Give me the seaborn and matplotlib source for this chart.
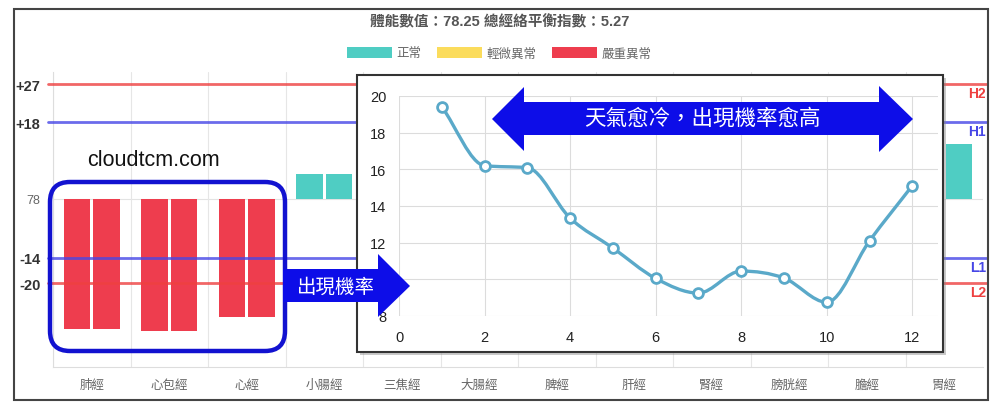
import numpy as np
import pandas as pd
import matplotlib
matplotlib.use('Agg')
import matplotlib.pyplot as plt
import matplotlib.transforms as mtransforms
import seaborn as sns
from matplotlib.patches import Rectangle, Polygon, FancyBboxPatch, PathPatch, Patch
from matplotlib.path import Path

# main chart: deviation from the body value (78) for each meridian, left / right side
meridians = ['肺經', '心包經', '心經', '小腸經', '三焦經', '大腸經',
             '脾經', '肝經', '腎經', '膀胱經', '膽經', '胃經']
left_values = [-30.9, -31.3, -28.0, 5.8, 4.0, -6.0, 3.0, -4.0, 5.0, -3.0, 4.0, 10.0]
right_values = [-30.9, -31.3, -28.0, 5.8, 5.0, -5.0, 2.0, -3.0, 6.0, -2.0, 3.0, 12.9]

ytick_values = [27, 18, 0, -14, -20]
ytick_labels = ['+27', '+18', '78', '-14', '-20']

ref_values = [27, 18, -14, -20]
ref_names = ['H2', 'H1', 'L1', 'L2']
ref_colors = ['#ee4040', '#4646e6', '#4646e6', '#ee4040']

status_names = ['正常', '輕微異常', '嚴重異常']
status_colors = ['#4fcdc3', '#fbdc5c', '#ee3d4e']

# inset: probability by month
months = [1, 2, 3, 4, 5, 6, 7, 8, 9, 10, 11, 12]
cold_rate = [19.42, 16.2, 16.09, 13.34, 11.71, 10.05, 9.25, 10.45, 10.07, 8.75, 12.1, 15.11]

title = '體能數值：78.25 總經絡平衡指數：5.27'
blue = '#0d0de8'
line_color = '#5aa9c9'
cjk = 'Noto Sans CJK TC'


def status_of(v):
    if v <= -20 or v >= 27:
        return 2
    if v <= -14 or v >= 18:
        return 1
    return 0


def px_box(x0, y0, x1, y1):
    return [x0 / 1000, 1 - y1 / 414, (x1 - x0) / 1000, (y1 - y0) / 414]


def monotone_path(xs, ys):
    # monotone cubic through the points, written as bezier segments
    xs = np.asarray(xs, float)
    ys = np.asarray(ys, float)
    n = len(xs)
    delta = np.diff(ys) / np.diff(xs)
    m = np.zeros(n)
    m[0], m[-1] = delta[0], delta[-1]
    for k in range(1, n - 1):
        if delta[k - 1] * delta[k] <= 0:
            m[k] = 0
        else:
            m[k] = (delta[k - 1] + delta[k]) / 2
    for k in range(n - 1):
        if delta[k] == 0:
            m[k] = m[k + 1] = 0
            continue
        a, b = m[k] / delta[k], m[k + 1] / delta[k]
        s = a * a + b * b
        if s > 9:
            tau = 3 / np.sqrt(s)
            m[k], m[k + 1] = tau * a * delta[k], tau * b * delta[k]
    verts = [(xs[0], ys[0])]
    codes = [Path.MOVETO]
    for k in range(n - 1):
        dx = (xs[k + 1] - xs[k]) / 3
        verts += [(xs[k] + dx, ys[k] + m[k] * dx),
                  (xs[k + 1] - dx, ys[k + 1] - m[k + 1] * dx),
                  (xs[k + 1], ys[k + 1])]
        codes += [Path.CURVE4] * 3
    return Path(verts, codes)


sns.set_style('white')
plt.rcParams['font.family'] = ['Liberation Sans', cjk, 'DejaVu Sans']

fig = plt.figure(figsize=(10, 4.14), dpi=100)

# ---- main bar chart
ax = fig.add_axes(px_box(53, 73, 983, 368), zorder=1)
df = pd.DataFrame({
    '經絡': meridians * 2,
    '側': ['左'] * len(meridians) + ['右'] * len(meridians),
    '數值': left_values + right_values,
})
sns.barplot(data=df, x='經絡', y='數值', hue='側', order=meridians,
            hue_order=['左', '右'], width=0.76, gap=0.1, errorbar=None,
            legend=False, ax=ax, zorder=2)
for container, vals in zip(ax.containers, [left_values, right_values]):
    for bar, v in zip(container, vals):
        bar.set_facecolor(status_colors[status_of(v)])
        bar.set_edgecolor('none')

ax.set_ylim(-39.8, 29.9)
ax.set_xlim(-0.5, len(meridians) - 0.5)
ax.set_xlabel('')
ax.set_ylabel('')
ax.set_yticks(ytick_values, ytick_labels)
for lab, val in zip(ax.get_yticklabels(), ytick_values):
    if val == 0:
        lab.set_fontsize(9)
        lab.set_color('#666666')
    else:
        lab.set_fontsize(10.5)
        lab.set_fontweight('bold')
        lab.set_color('#333333')
ax.tick_params(axis='y', length=6, color='#cccccc', pad=3)
ax.set_xticks(np.arange(-0.5, len(meridians), 1), minor=True)
ax.tick_params(axis='x', which='minor', length=8, color='#e3e3e3')
ax.tick_params(axis='x', which='major', length=0, pad=8, labelsize=9, labelcolor='#666666')
for lab in ax.get_xticklabels():
    lab.set_fontfamily(cjk)
ax.grid(axis='x', which='minor', color='#e6e6e6', lw=0.8)
ax.axhline(0, color='#e3e3e3', lw=0.8, zorder=0)
for side in ['top', 'right']:
    ax.spines[side].set_visible(False)
for side in ['left', 'bottom']:
    ax.spines[side].set_color('#dddddd')

blend = mtransforms.blended_transform_factory(ax.transAxes, ax.transData)
for val, name, col in zip(ref_values, ref_names, ref_colors):
    ax.axhline(val, xmin=-0.0054, xmax=1.004, color=col, lw=2, alpha=0.8,
               clip_on=False, zorder=3)
    ax.annotate(name, xy=(1.003, val), xycoords=blend, xytext=(0, -1.5),
                textcoords='offset points', ha='right', va='top',
                fontsize=10, fontweight='bold', color=col, annotation_clip=False)

# ---- inset card
card = fig.add_axes([0, 0, 1, 1], zorder=2)
card.set_xlim(0, 1000)
card.set_ylim(414, 0)
card.axis('off')
card.add_patch(Rectangle((360, 79), 586, 277, fc='#888888', ec='none', alpha=0.45))
card.add_patch(Rectangle((357, 76), 586, 277, fc='white', ec='#333333', lw=1.5))

# ---- inset line chart
ax2 = fig.add_axes(px_box(399, 97, 938, 317), zorder=3)
ax2.set_facecolor('none')
ax2.set_xlim(0, 12.6)
ax2.set_ylim(8, 20)
ax2.set_xticks(range(0, 13, 2))
ax2.set_yticks(range(8, 21, 2))
ax2.grid(True, color='#dcdcdc', lw=0.8)
for s in ax2.spines.values():
    s.set_visible(False)
ax2.tick_params(length=0, labelsize=10.5, labelcolor='#222222')
ax2.tick_params(axis='x', pad=10)
ax2.tick_params(axis='y', pad=9)

ax2.add_patch(PathPatch(monotone_path(months, cold_rate), fc='none',
                        ec=line_color, lw=2.4, zorder=2))
sns.scatterplot(x=months, y=cold_rate, ax=ax2, s=50, color='white',
                edgecolor=line_color, linewidth=2, zorder=4)

# ---- decorations on top
deco = fig.add_axes([0, 0, 1, 1], zorder=5)
deco.set_xlim(0, 1000)
deco.set_ylim(414, 0)
deco.axis('off')
deco.add_patch(Rectangle((14, 10), 974, 391, fill=False, ec='#444444', lw=1.5))
deco.add_patch(FancyBboxPatch((50, 183), 235, 169,
                              boxstyle='round,pad=0,rounding_size=20',
                              fc='none', ec='#1212d0', lw=3.2))
deco.text(87, 161, 'cloudtcm.com', fontsize=15.5, color='#111111',
          ha='left', va='center')

deco.add_patch(Polygon([(283, 270), (378, 270), (378, 255), (410, 287),
                        (378, 318), (378, 303), (283, 303)], fc=blue, ec='none'))
deco.text(336, 287, '出現機率', fontsize=14, color='white', ha='center', va='center',
          family=cjk)

deco.add_patch(Polygon([(492, 120), (524, 88), (524, 103), (879, 103), (879, 87),
                        (913, 120), (879, 153), (879, 136), (524, 136), (524, 152)],
                       fc=blue, ec='none'))
deco.text(702, 119, '天氣愈冷，出現機率愈高', fontsize=15.5, color='white',
          ha='center', va='center', family=cjk)

fig.text(0.5, 1 - 22 / 414, title, ha='center', va='center', fontsize=10.5,
         fontweight='bold', color='#555555')
fig.legend(handles=[Patch(fc=c, ec='none', label=nm) for c, nm in zip(status_colors, status_names)],
           loc='center', bbox_to_anchor=(0.499, 1 - 54 / 414), ncol=3, frameon=False,
           prop={'family': cjk, 'size': 9}, handlelength=3.6, handleheight=1.0,
           handletextpad=0.4, columnspacing=1.2, labelcolor='#666666')

fig.savefig('out.png', dpi=100)
